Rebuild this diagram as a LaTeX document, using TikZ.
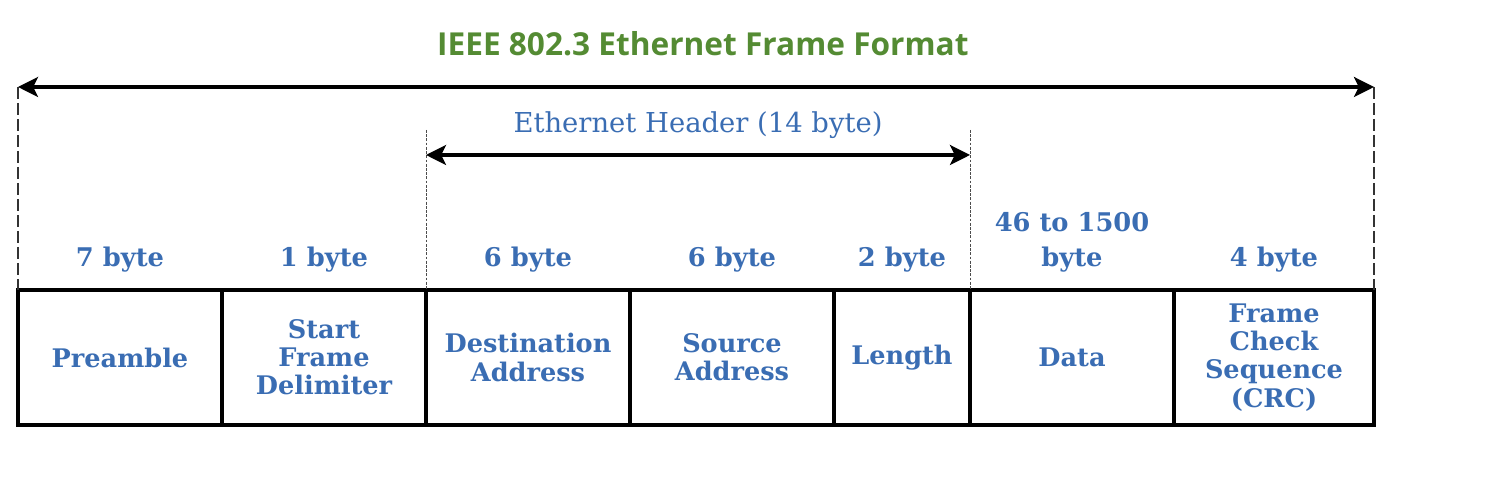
\documentclass[tikz,border=0pt]{standalone}
\usepackage{fontspec}
\setmainfont{DejaVu Serif}
\newfontfamily\titlefont{Open Sans}
\usetikzlibrary{arrows.meta, positioning}
\definecolor{cblue}{HTML}{3A6DB3}
\definecolor{cgreen}{HTML}{548B33}
\tikzset{
  every picture/.style={line width=2.2pt},
  cell/.style={draw=black, outer sep=0pt, inner sep=2pt, minimum height=3.375cm, align=center, text=cblue, font=\bfseries\fontsize{18.2}{20}\selectfont},
  bytes/.style={text=cblue, align=center, inner sep=0pt, font=\bfseries\fontsize{18.3}{24.8}\selectfont},
  header/.style={text=cblue, inner sep=0pt, font=\fontsize{19.5}{22}\selectfont},
  title/.style={text=cgreen, inner sep=0pt, font=\titlefont\bfseries\fontsize{22.5}{26}\selectfont},
  span/.style={{Stealth[length=0.5cm, width=0.5cm, inset=0.12cm]}-{Stealth[length=0.5cm, width=0.5cm, inset=0.12cm]}, line width=2.2pt},
  guide/.style={draw=black!80, line width=1.3pt, dash pattern=on 0.3cm off 0.1cm},
  fine/.style={draw=black!70, line width=0.7pt, dash pattern=on 2pt off 1pt},
}

\begin{document}
\begin{tikzpicture}
  \useasboundingbox (0,0) rectangle (37.15,12.45);
  % frame fields
  \node[cell, minimum width=5.1cm, anchor=north west] (pre) at (0.45,5.2) {Preamble};
  \node[cell, minimum width=5.1cm, right=0pt of pre] (sfd) {Start\\Frame\\Delimiter};
  \node[cell, minimum width=5.1cm, right=0pt of sfd] (dst) {Destination\\Address};
  \node[cell, minimum width=5.1cm, right=0pt of dst] (src) {Source\\Address};
  \node[cell, minimum width=3.4cm, right=0pt of src] (len) {Length};
  \node[cell, minimum width=5.1cm, right=0pt of len] (data) {Data};
  \node[cell, minimum width=5.0cm, right=0pt of data] (fcs) {Frame\\Check\\Sequence\\(CRC)};
  % sizes
  \node[bytes, above=0.4cm of pre] (bpre) {7 byte};
  \node[bytes, above=0.4cm of sfd] (bsfd) {1 byte};
  \node[bytes, above=0.4cm of dst] (bdst) {6 byte};
  \node[bytes, above=0.4cm of src] (bsrc) {6 byte};
  \node[bytes, above=0.4cm of len] (blen) {2 byte};
  \node[bytes, above=0.4cm of data] (bdata) {46 to 1500\\byte};
  \node[bytes, above=0.4cm of fcs] (bfcs) {4 byte};
  % whole frame
  \coordinate (topl) at ([yshift=5.075cm]pre.north west);
  \coordinate (topr) at ([yshift=5.075cm]fcs.north east);
  \draw[guide] (topl) -- (pre.north west);
  \draw[guide] (topr) -- (fcs.north east);
  \draw[span] (topl) -- node[title, above=0.75cm, xshift=0.17cm] (ttl) {IEEE 802.3 Ethernet Frame Format} (topr);
  % header
  \coordinate (hl) at ([yshift=3.375cm]dst.north west);
  \coordinate (hr) at ([yshift=3.375cm]len.north east);
  \coordinate (hlt) at ([yshift=4cm]dst.north west);
  \coordinate (hrt) at ([yshift=4cm]len.north east);
  \draw[fine] (hlt) -- (dst.north west);
  \draw[fine] (hrt) -- (len.north east);
  \draw[span] (hl) -- node[header, above=0.38cm] (hdr) {Ethernet Header (14 byte)} (hr);
\end{tikzpicture}
\end{document}
